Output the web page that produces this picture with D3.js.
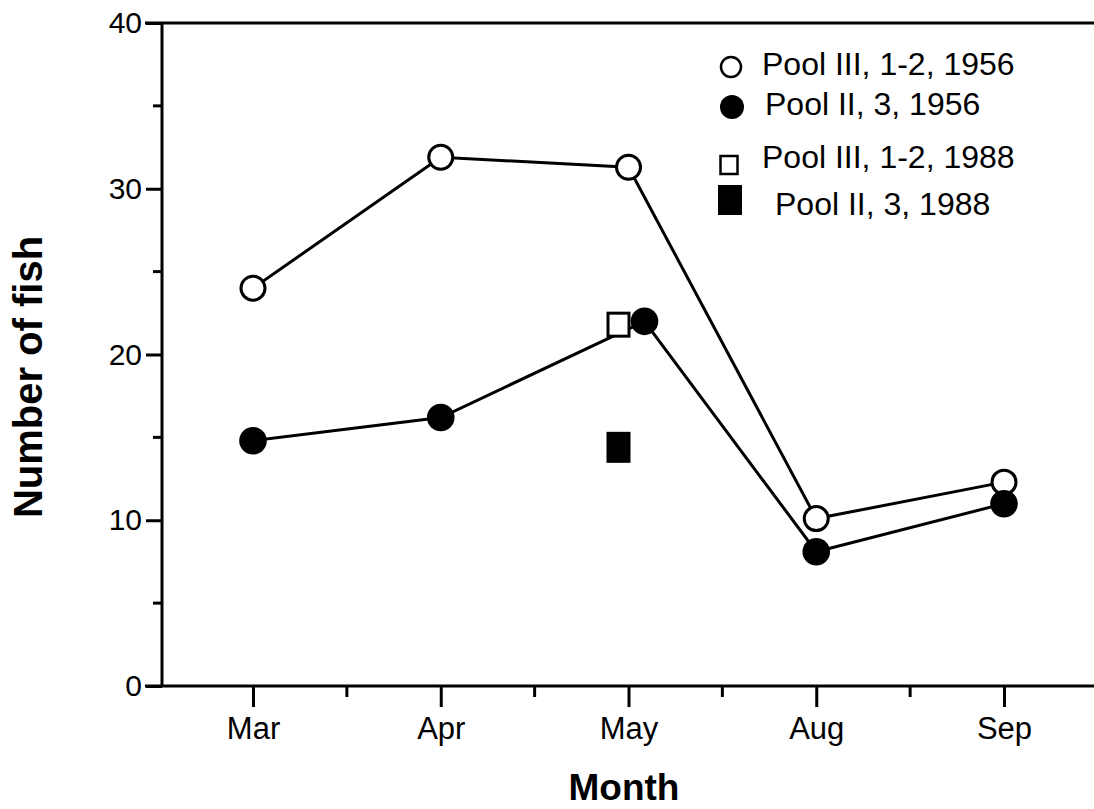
<!DOCTYPE html>
<html>
<head>
<meta charset="utf-8">
<script src="https://cdn.jsdelivr.net/npm/d3@7"></script>
<style>
  body { margin: 0; background: #fff; }
  text { font-family: "Liberation Sans", Arial, Helvetica, sans-serif; fill: #000; }
</style>
</head>
<body>
<script>
var months = ['Mar', 'Apr', 'May', 'Aug', 'Sep'];
var yTicks = [0, 10, 20, 30, 40];
var yMinorTicks = [5, 15, 25, 35];

// Pool III, 1-2, 1956 (open circles)
var pool3_1956 = [24.0, 31.9, 31.3, 10.1, 12.3];
// Pool II, 3, 1956 (filled circles)
var pool2_1956 = [14.8, 16.2, 22.0, 8.1, 11.0];
// 1988 samples, May only
var pool3_1988 = [{month: 'May', value: 21.8}];
var pool2_1988 = [{month: 'May', value: 14.4}];

var legendLabels = ['Pool III, 1-2, 1956', 'Pool II, 3, 1956', 'Pool III, 1-2, 1988', 'Pool II, 3, 1988'];

var fullWidth = 1094;
var fullHeight = 809;
var margin = {top: 23, right: 0, bottom: 123, left: 162};
var width = fullWidth - margin.left - margin.right;
var height = fullHeight - margin.top - margin.bottom;

var svg = d3.select('body').append('svg')
  .attr('width', fullWidth)
  .attr('height', fullHeight)
  .append('g')
    .attr('transform', 'translate(' + margin.left + ',' + margin.top + ')');

var monthScale = d3.scalePoint()
  .domain(months)
  .range([91, 842]);

var fishScale = d3.scaleLinear()
  .domain([0, 40])
  .range([height, 0]);

// top frame line running off the right edge
svg.append('line')
  .attr('x1', -17).attr('x2', width)
  .attr('y1', 0).attr('y2', 0)
  .style('stroke', '#000').style('stroke-width', 3);

var xAxis = d3.axisBottom(monthScale).tickSize(21).tickPadding(10);
var xAxisEle = svg.append('g')
  .attr('transform', 'translate(0,' + height + ')')
  .call(xAxis);
xAxisEle.select('.domain').remove();
xAxisEle.append('line')
  .attr('x1', -17).attr('x2', width)
  .style('stroke', '#000').style('stroke-width', 3);
xAxisEle.selectAll('.tick line').style('stroke-width', 3);
xAxisEle.selectAll('.tick text')
  .style('font-family', '"Liberation Sans", Arial, sans-serif')
  .style('font-size', '31px');

// minor ticks between months
var step = monthScale.step();
xAxisEle.selectAll('.minor')
  .data(months.slice(0, -1))
  .enter().append('line')
    .attr('x1', function(d) { return monthScale(d) + step / 2; })
    .attr('x2', function(d) { return monthScale(d) + step / 2; })
    .attr('y1', 0).attr('y2', 11)
    .style('stroke', '#000').style('stroke-width', 3);

var yAxis = d3.axisLeft(fishScale).tickValues(yTicks).tickSize(16).tickPadding(4);
var yAxisEle = svg.append('g').call(yAxis);
yAxisEle.select('.domain').remove();
yAxisEle.append('line')
  .attr('y1', 0).attr('y2', height)
  .style('stroke', '#000').style('stroke-width', 3);
yAxisEle.selectAll('.tick line').style('stroke-width', 3);
yAxisEle.selectAll('.tick text')
  .style('font-family', '"Liberation Sans", Arial, sans-serif')
  .style('font-size', '30px');
yAxisEle.selectAll('.minor')
  .data(yMinorTicks)
  .enter().append('line')
    .attr('x1', -9).attr('x2', 0)
    .attr('y1', function(d) { return fishScale(d); })
    .attr('y2', function(d) { return fishScale(d); })
    .style('stroke', '#000').style('stroke-width', 3);

// axis titles
svg.append('text')
  .attr('x', 462)
  .attr('y', height + 114)
  .style('text-anchor', 'middle')
  .style('font-size', '37px')
  .style('font-weight', 'bold')
  .text('Month');

svg.append('text')
  .attr('transform', 'translate(-120,' + (377 - margin.top) + ')rotate(-90)')
  .style('text-anchor', 'middle')
  .style('font-size', '40px')
  .style('font-weight', 'bold')
  .text('Number of fish');

// series
var filledDodge = [0, 0, 16, 0, 0];
var squareDodge = -10;

var line = d3.line()
  .x(function(d) { return d.x; })
  .y(function(d) { return d.y; });

function points(values, dodge) {
  return values.map(function(v, i) {
    return {x: monthScale(months[i]) + (dodge ? dodge[i] : 0), y: fishScale(v)};
  });
}

var openPts = points(pool3_1956);
var filledPts = points(pool2_1956, filledDodge);

svg.append('path').datum(openPts)
  .attr('d', line)
  .style('fill', 'none').style('stroke', '#000').style('stroke-width', 3);
svg.append('path').datum(filledPts)
  .attr('d', line)
  .style('fill', 'none').style('stroke', '#000').style('stroke-width', 3);

svg.selectAll('.open-dot')
  .data(openPts)
  .enter().append('circle')
    .attr('cx', function(d) { return d.x; })
    .attr('cy', function(d) { return d.y; })
    .attr('r', 12)
    .style('fill', '#fff').style('stroke', '#000').style('stroke-width', 3);

svg.selectAll('.filled-dot')
  .data(filledPts)
  .enter().append('circle')
    .attr('cx', function(d) { return d.x; })
    .attr('cy', function(d) { return d.y; })
    .attr('r', 13.8)
    .style('fill', '#000');

svg.selectAll('.open-sq')
  .data(pool3_1988)
  .enter().append('rect')
    .attr('x', function(d) { return monthScale(d.month) + squareDodge - 10.5; })
    .attr('y', function(d) { return fishScale(d.value) - 11.5; })
    .attr('width', 21).attr('height', 23)
    .style('fill', '#fff').style('stroke', '#000').style('stroke-width', 3);

svg.selectAll('.filled-sq')
  .data(pool2_1988)
  .enter().append('rect')
    .attr('x', function(d) { return monthScale(d.month) + squareDodge - 12; })
    .attr('y', function(d) { return fishScale(d.value) - 15.5; })
    .attr('width', 24).attr('height', 31)
    .style('fill', '#000');

// legend (hand-set rows, as in the original figure)
var legend = svg.append('g');
var legendRows = [
  {sx: 569, sy: 44, tx: 600, ty: 52},
  {sx: 570, sy: 84, tx: 603, ty: 92},
  {sx: 567, sy: 142, tx: 600, ty: 145},
  {sx: 568, sy: 177, tx: 613, ty: 192}
];

legendLabels.forEach(function(label, i) {
  var r = legendRows[i];
  if (i === 0) {
    legend.append('circle').attr('cx', r.sx).attr('cy', r.sy).attr('r', 10)
      .style('fill', '#fff').style('stroke', '#000').style('stroke-width', 2.5);
  } else if (i === 1) {
    legend.append('circle').attr('cx', r.sx).attr('cy', r.sy).attr('r', 12).style('fill', '#000');
  } else if (i === 2) {
    legend.append('rect').attr('x', r.sx - 8.5).attr('y', r.sy - 9).attr('width', 17).attr('height', 18)
      .style('fill', '#fff').style('stroke', '#000').style('stroke-width', 2.5);
  } else {
    legend.append('rect').attr('x', r.sx - 12).attr('y', r.sy - 15).attr('width', 24).attr('height', 30)
      .style('fill', '#000');
  }
  legend.append('text')
    .attr('x', r.tx)
    .attr('y', r.ty)
    .style('font-size', '32px')
    .text(label);
});
</script>
</body>
</html>
